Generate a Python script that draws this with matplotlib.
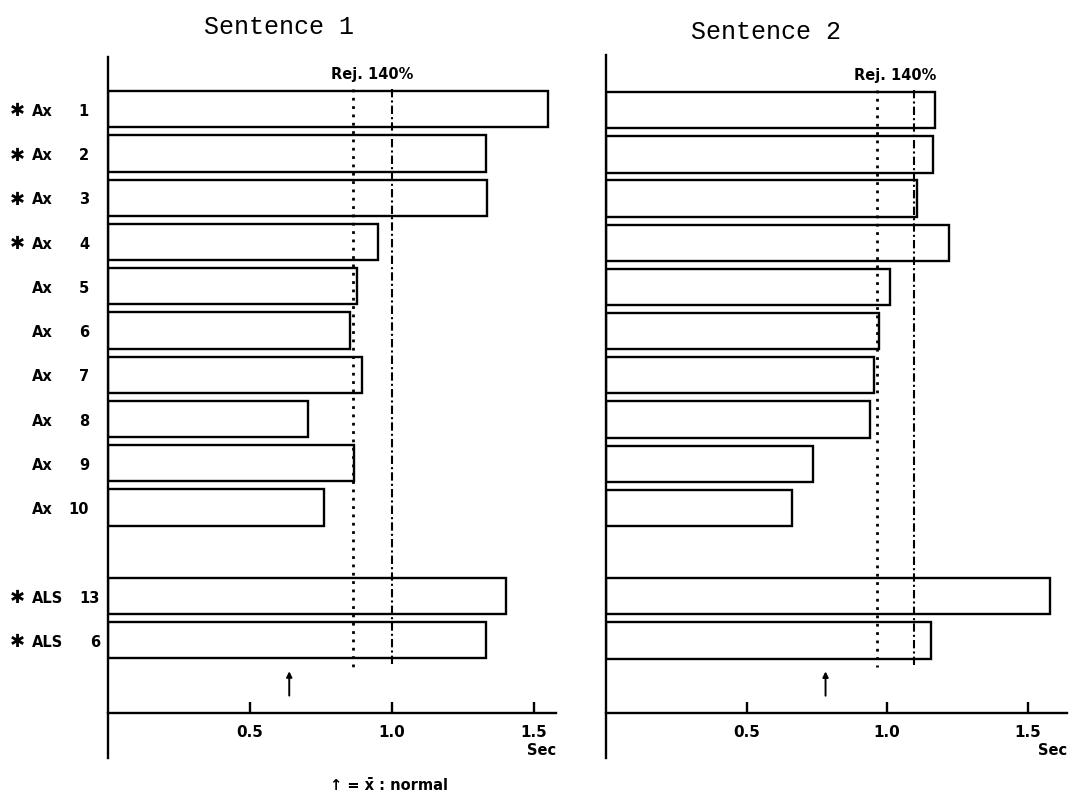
import matplotlib
matplotlib.use('Agg')
import matplotlib.pyplot as plt
from matplotlib.transforms import blended_transform_factory

# ---------------- data ----------------
label_group = ["Ax"] * 10 + ["ALS", "ALS"]
label_num = ["1", "2", "3", "4", "5", "6", "7", "8", "9", "10", "13", "6"]
starred = [True, True, True, True, False, False, False, False, False, False, True, True]
rows = [0, 1, 2, 3, 4, 5, 6, 7, 8, 9, 11, 12]

sentence1 = [1.55, 1.33, 1.335, 0.95, 0.875, 0.852, 0.894, 0.703, 0.867, 0.761, 1.40, 1.33]
sentence2 = [1.172, 1.163, 1.106, 1.22, 1.012, 0.971, 0.952, 0.939, 0.737, 0.661, 1.578, 1.157]

titles = ["Sentence 1", "Sentence 2"]
rej_dotted = [0.862, 0.965]
rej_dashdot = [1.0, 1.094]
normal_mean = [0.638, 0.781]
xticks = [0.5, 1.0, 1.5]
xtick_labels = ["0.5", "1.0", "1.5"]

# ---------------- layout ----------------
W, H = 1069, 800
fig = plt.figure(figsize=(W / 100, H / 100), dpi=100)


def px_axes(l, r, t, b):
    return fig.add_axes([l / W, 1 - b / H, (r - l) / W, (b - t) / H])


axL = px_axes(108, 556, 57, 758)
axR = px_axes(606, 1067, 55, 758)

panels = [
    (axL, sentence1, 1.577, -1.18, 0),
    (axR, sentence2, 1.64, -1.25, 1),
]

for ax, vals, xmax, ytop, k in panels:
    ax.barh(rows, vals, height=0.82, left=0, color='white',
            edgecolor='black', linewidth=1.7, zorder=2)
    ax.set_xlim(0, xmax)
    ax.set_ylim(14.66, ytop)
    for s in ['top', 'right']:
        ax.spines[s].set_visible(False)
    ax.spines['bottom'].set_position(('data', 13.64))
    ax.spines['left'].set_linewidth(1.7)
    ax.spines['bottom'].set_linewidth(1.7)
    ax.set_yticks([])
    ax.set_xticks(xticks)
    ax.set_xticklabels(xtick_labels, fontsize=11, fontweight='bold')
    ax.tick_params(axis='x', direction='in', length=8, width=1.7, pad=9)

    ax.vlines(rej_dotted[k], -0.45, 12.6, colors='black',
              linestyles=(0, (1, 2)), linewidth=2, zorder=3)
    ax.vlines(rej_dashdot[k], -0.45, 12.6, colors='black',
              linestyles=(0, (4, 1.5, 1, 1.5)), linewidth=1.5, zorder=3)
    ax.text((rej_dotted[k] + rej_dashdot[k]) / 2, -0.79, 'Rej. 140%',
            ha='center', va='center', fontsize=10.5, fontweight='bold')

    ax.annotate('', xy=(normal_mean[k], 12.70), xytext=(normal_mean[k], 13.25),
                arrowprops=dict(arrowstyle='-|>', color='black', lw=1.4,
                                mutation_scale=8, shrinkA=0, shrinkB=0))

    trans = blended_transform_factory(ax.transAxes, ax.transData)
    ax.text(1.0, 14.5, 'Sec', transform=trans, ha='right', va='center',
            fontsize=10.5, fontweight='bold')

# titles
fig.text(279 / W, 1 - 27 / H, titles[0], ha='center', va='center',
         family='Liberation Mono', fontsize=18)
fig.text(766 / W, 1 - 32 / H, titles[1], ha='center', va='center',
         family='Liberation Mono', fontsize=18)

# row labels (left panel)
tr = blended_transform_factory(fig.transFigure, axL.transData)
for r, g, n, st in zip(rows, label_group, label_num, starred):
    if st:
        axL.text(17 / W, r + 0.05, '\u2731', transform=tr, ha='center', va='center',
                 fontsize=13, fontweight='bold')
    axL.text(32 / W, r + 0.05, g, transform=tr, ha='left', va='center',
             fontsize=10.5, fontweight='bold')
    xr = 100 if g == 'ALS' else 89
    axL.text(xr / W, r + 0.05, n, transform=tr, ha='right', va='center',
             fontsize=10.5, fontweight='bold')

# legend note
fig.text(330 / W, 1 - 785 / H, '\u2191 = x\u0304 : normal', ha='left', va='center',
         fontsize=10.5, fontweight='bold')

fig.savefig('out.png', dpi=100)
